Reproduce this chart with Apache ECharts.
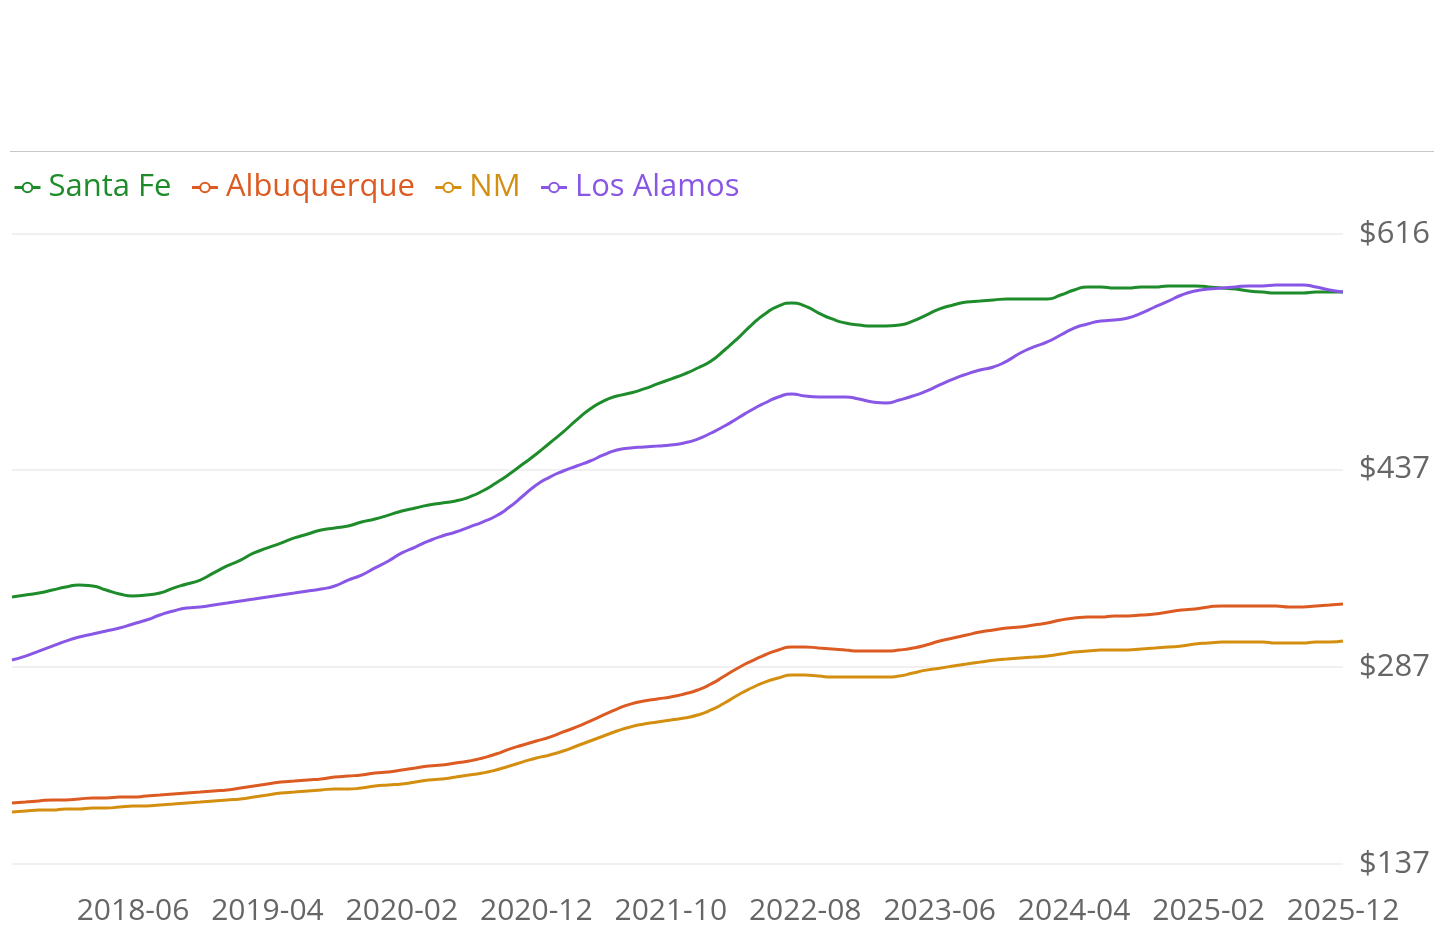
<!DOCTYPE html>
<html>
<head>
<meta charset="utf-8">
<script src="https://cdn.jsdelivr.net/npm/echarts@6/dist/echarts.min.js"></script>
<style>
html,body{margin:0;padding:0;background:#fff;}
#chart{width:1434px;height:926px;}
</style>
</head>
<body>
<div id="chart"></div>
<script>
// Months 2017-09 .. 2025-12
const months = [];
for (let y = 2017; y <= 2025; y++) {
  for (let m = 1; m <= 12; m++) {
    if (y === 2017 && m < 9) continue;
    months.push(y + '-' + String(m).padStart(2, '0'));
  }
}

const seriesNames = ['Santa Fe', 'Albuquerque', 'NM', 'Los Alamos'];

const santaFe = [340.0,341.5,343.0,345.3,347.6,349.1,348.4,345.3,342.3,340.8,
341.5,343.0,346.8,349.9,352.9,358.3,363.6,368.1,373.5,377.3,
381.0,384.9,387.9,391.0,392.5,394.0,397.0,399.3,402.3,405.4,
407.7,409.9,411.5,413.0,416.0,420.6,426.7,433.5,441.1,448.7,
457.1,465.5,474.6,482.9,489.0,492.8,495.1,498.2,502.0,505.7,
509.5,514.1,519.4,527.8,536.9,546.8,555.2,561.2,563.5,561.2,
555.9,551.4,548.3,546.8,546.0,546.0,546.8,549.8,554.4,559.0,
562.0,564.3,565.0,565.8,566.6,566.6,566.6,566.6,569.6,573.4,
575.7,575.7,574.9,574.9,575.7,575.7,576.5,576.5,576.5,575.7,
574.9,574.2,572.6,571.9,571.1,571.1,571.1,571.9,571.9,571.9];

const albuquerque = [183.4,184.1,184.9,185.7,185.7,186.4,187.2,187.2,187.9,187.9,
188.7,189.4,190.2,191.0,191.7,192.5,193.3,194.8,196.3,197.8,
199.3,200.1,200.9,201.6,203.1,203.9,204.7,206.2,206.9,208.5,
210.0,211.5,212.3,213.8,215.3,217.6,220.6,224.4,227.5,230.5,
233.5,237.4,241.2,245.7,250.3,254.8,258.6,260.9,262.5,264.0,
266.3,269.3,273.9,279.9,286.0,291.3,295.9,299.7,302.0,302.0,
301.2,300.5,299.7,298.9,298.9,298.9,299.7,301.2,303.5,306.5,
308.8,311.1,313.4,314.9,316.4,317.2,318.7,320.2,322.5,324.0,
324.8,324.8,325.6,325.6,326.3,327.1,328.6,330.1,330.9,332.4,
333.2,333.2,333.2,333.2,333.2,332.4,332.4,333.2,333.9,334.7];

const nm = [176.5,177.3,178.0,178.0,178.8,178.8,179.6,179.6,180.3,181.1,
181.1,181.9,182.6,183.4,184.1,184.9,185.7,186.4,187.9,189.4,
191.0,191.7,192.5,193.3,194.0,194.0,194.8,196.3,197.1,197.8,
199.3,200.9,201.6,203.1,204.7,206.2,208.5,211.5,214.6,217.6,
219.9,222.9,226.7,230.5,234.3,238.1,241.2,243.4,245.0,246.5,
248.0,250.3,254.1,259.4,265.5,270.8,275.3,278.4,280.7,280.7,
279.9,279.1,279.1,279.1,279.1,279.1,279.9,282.2,284.4,285.9,
287.5,289.0,290.5,292.0,292.8,293.6,294.3,295.1,296.6,298.1,
298.9,299.7,299.7,299.7,300.5,301.2,302.0,302.7,304.3,305.0,
305.8,305.8,305.8,305.8,305.0,305.0,305.0,305.8,305.8,306.6];

const losAlamos = [292.1,295.1,298.9,302.7,306.5,309.6,311.9,314.2,316.4,319.5,
322.5,326.3,329.4,331.6,332.4,333.9,335.4,337.0,338.5,340.0,
341.5,343.0,344.6,346.1,348.4,352.9,356.7,362.1,367.4,373.5,
378.0,382.6,386.4,389.4,393.2,397.0,401.6,408.4,416.8,425.2,
431.2,435.8,439.6,443.4,448.0,451.8,453.3,454.1,454.8,455.6,
457.1,460.1,464.7,470.0,476.1,482.2,487.5,492.1,494.3,492.8,
492.1,492.1,492.1,490.5,488.3,487.5,489.8,492.8,496.6,501.2,
505.7,509.5,512.6,514.9,519.4,525.5,530.1,533.9,539.2,544.5,
547.6,549.8,550.6,552.1,555.9,560.5,565.0,569.6,572.6,574.2,
574.9,575.7,576.5,576.5,577.2,577.2,577.2,575.7,573.4,571.9];

const yTicks = [137, 287, 437, 616];

const colors = ['#1f8c2c', '#dc5b22', '#d48f10', '#8957e5'];
const dataSets = [santaFe, albuquerque, nm, losAlamos];

const chart = echarts.init(document.getElementById('chart'));
const FONT = '"Open Sans", sans-serif';

chart.setOption({
  animation: false,
  backgroundColor: '#fff',
  color: colors,
  graphic: [{
    type: 'line',
    shape: { x1: 10, y1: 151.5, x2: 1434, y2: 151.5 },
    style: { stroke: '#c8c8c8', lineWidth: 1 }
  }],
  legend: {
    left: 8,
    top: 167,
    itemWidth: 26,
    itemHeight: 12,
    itemGap: 19,
    lineStyle: { width: 3 },
    itemStyle: { borderWidth: 2.5 },
    textStyle: { fontFamily: FONT, fontSize: 31, padding: [0, 0, 0, 3] },
    data: seriesNames.map((n, i) => ({ name: n, textStyle: { color: colors[i] } }))
  },
  grid: { left: 12, right: 91, top: 234, bottom: 62, containLabel: false },
  xAxis: {
    type: 'category',
    data: months,
    boundaryGap: false,
    axisLine: { show: false },
    axisTick: { show: false },
    splitLine: { show: false },
    axisLabel: {
      interval: (idx) => (idx - 9) % 10 === 0 && idx >= 9,
      color: '#666',
      fontFamily: FONT,
      fontSize: 30,
      margin: 32
    }
  },
  yAxis: {
    type: 'value',
    position: 'right',
    min: 137,
    max: 616,
    axisLine: { show: false },
    axisTick: { show: false, customValues: yTicks },
    axisLabel: {
      customValues: yTicks,
      formatter: (v) => '$' + v,
      color: '#666',
      fontFamily: FONT,
      fontSize: 31,
      margin: 16,
      verticalAlign: 'middle'
    },
    splitLine: { show: true, lineStyle: { color: '#f0f0f0', width: 2 } }
  },
  series: dataSets.map((d, i) => ({
    name: seriesNames[i],
    type: 'line',
    data: d,
    smooth: 0.6,
    symbol: 'emptyCircle',
    symbolSize: 8,
    showSymbol: false,
    lineStyle: { width: 3, color: colors[i] },
    itemStyle: { color: colors[i], borderWidth: 2.5 }
  }))
});
</script>
</body>
</html>
